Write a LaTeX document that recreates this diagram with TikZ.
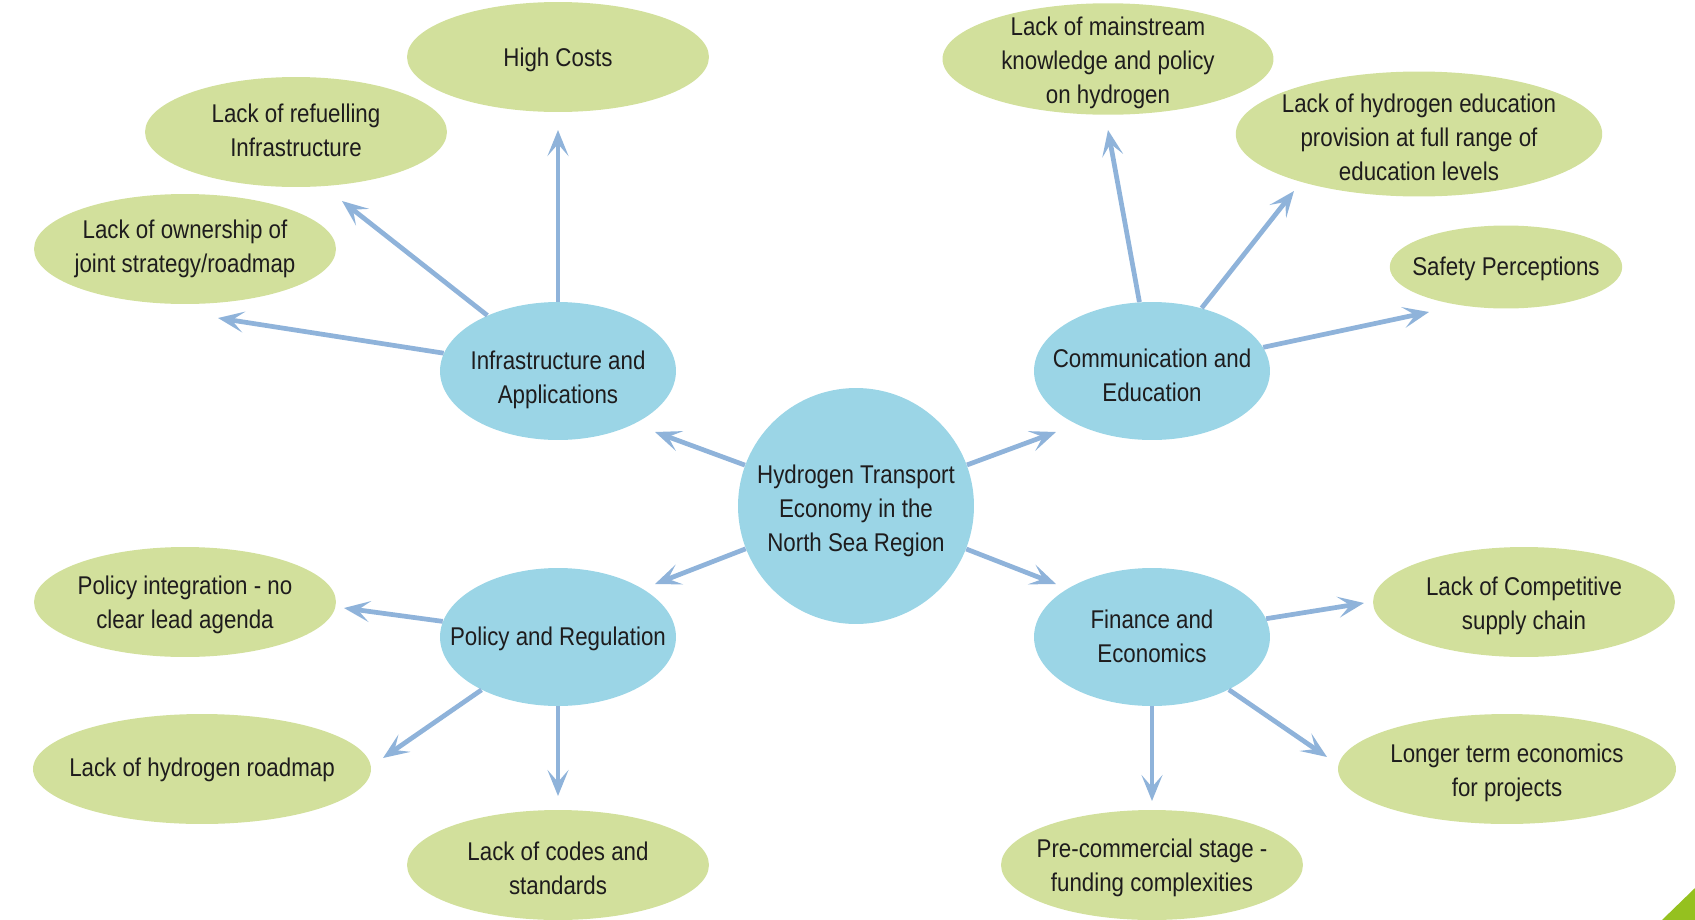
\documentclass[tikz,border=0pt]{standalone}
\usepackage{fontspec}
\setmainfont{Liberation Sans}[FakeStretch=0.87]
\usetikzlibrary{shapes.geometric,arrows.meta}
\definecolor{bluefill}{HTML}{9BD5E6}
\definecolor{greenfill}{HTML}{D2E09C}
\definecolor{arrowcol}{HTML}{8FB3DA}
\definecolor{txtcol}{HTML}{1E1C1D}
\definecolor{cornergreen}{HTML}{95C11F}
\tikzset{
  lbl/.style={align=center, text=txtcol, inner sep=0pt, yshift=-0.065cm, font=\fontsize{14.6}{19.3}\selectfont},
  base/.style={ellipse, inner sep=0pt},
  hub/.style={base, fill=bluefill, minimum width=4.72cm, minimum height=2.76cm},
  core/.style={base, fill=bluefill, minimum width=4.72cm, minimum height=4.72cm},
  leaf/.style={base, fill=greenfill, minimum width=6.04cm, minimum height=2.2cm},
  txt/.style={label={[lbl]center:#1}},
  txtd/.style 2 args={label={[lbl, yshift=#1]center:#2}},
  conn/.style={draw=arrowcol, line width=2.7pt, -{Stealth[length=0.52cm,width=0.42cm,inset=0.24cm]}}
}
\begin{document}
\begin{tikzpicture}[x=0.02cm,y=-0.02cm]
\useasboundingbox (0,0) rectangle (1695,920);
\fill[cornergreen] (1662,920) -- (1695,888) -- (1695,920) -- cycle;

\node[core, txtd={-0.03cm}{Hydrogen Transport\\Economy in the\\North Sea Region}] (c) at (856,506) {};
\node[hub, txtd={-0.11cm}{Infrastructure and\\Applications}] (infra) at (558,371) {};
\node[hub, txtd={-0.02cm}{Communication and\\Education}] (comm) at (1152,371) {};
\node[hub, txtd={0.03cm}{Policy and Regulation}] (pol) at (558,637) {};
\node[hub, txtd={0.07cm}{Finance and\\Economics}] (fin) at (1152,637) {};

\node[leaf, txt={High Costs}] (high) at (558,57) {};
\node[leaf, txtd={0.09cm}{Lack of refuelling\\Infrastructure}] (ref) at (296,132) {};
\node[leaf, txtd={0.065cm}{Lack of ownership of\\joint strategy/roadmap}] (own) at (185,249) {};
\node[leaf, txt={Policy integration - no\\clear lead agenda}] (int) at (185,602) {};
\node[leaf, minimum width=6.76cm, txtd={0.04cm}{Lack of hydrogen roadmap}] (road) at (202,769) {};
\node[leaf, txt={Lack of codes and\\standards}] (codes) at (558,865) {};
\node[leaf, minimum width=6.62cm, minimum height=2.23cm, txtd={-0.02cm}{Lack of mainstream\\knowledge and policy\\on hydrogen}] (main) at (1108,59) {};
\node[leaf, minimum width=7.33cm, minimum height=2.5cm, txt={Lack of hydrogen education\\provision at full range of\\education levels}] (edu) at (1419,134) {};
\node[leaf, minimum width=4.65cm, minimum height=1.66cm, txtd={0.02cm}{Safety Perceptions}] (safe) at (1506,267) {};
\node[leaf, txtd={-0.01cm}{Lack of Competitive\\supply chain}] (comp) at (1524,602) {};
\node[leaf, minimum width=6.76cm, txtd={-0.02cm}{Longer term economics\\for projects}] (long) at (1507,769) {};
\node[leaf, txt={Pre-commercial stage -\\funding complexities}] (pre) at (1152,865) {};

\coordinate (tInfra) at (655,432);
\coordinate (tComm) at (1056,432);
\coordinate (tPol) at (655,584);
\coordinate (tFin) at (1056,584);
\coordinate (tHigh) at (558,130);
\coordinate (tRef) at (342,201);
\coordinate (tOwn) at (218,318);
\coordinate (tMain) at (1108,130);
\coordinate (tEdu) at (1294,191);
\coordinate (tSafe) at (1429,312);
\coordinate (tInt) at (344,608);
\coordinate (tRoad) at (383,758);
\coordinate (tCodes) at (558,796);
\coordinate (tComp) at (1364,603);
\coordinate (tLong) at (1327,757);
\coordinate (tPre) at (1152,801);

\draw[conn] (c) -- (tInfra);
\draw[conn] (c) -- (tComm);
\draw[conn] (c) -- (tPol);
\draw[conn] (c) -- (tFin);
\draw[conn] (infra) -- (tHigh);
\draw[conn] (infra) -- (tRef);
\draw[conn] (infra) -- (tOwn);
\draw[conn] (comm) -- (tMain);
\draw[conn] (comm) -- (tEdu);
\draw[conn] (comm) -- (tSafe);
\draw[conn] (pol) -- (tInt);
\draw[conn] (pol) -- (tRoad);
\draw[conn] (pol) -- (tCodes);
\draw[conn] (fin) -- (tComp);
\draw[conn] (fin) -- (tLong);
\draw[conn] (fin) -- (tPre);
\end{tikzpicture}
\end{document}
